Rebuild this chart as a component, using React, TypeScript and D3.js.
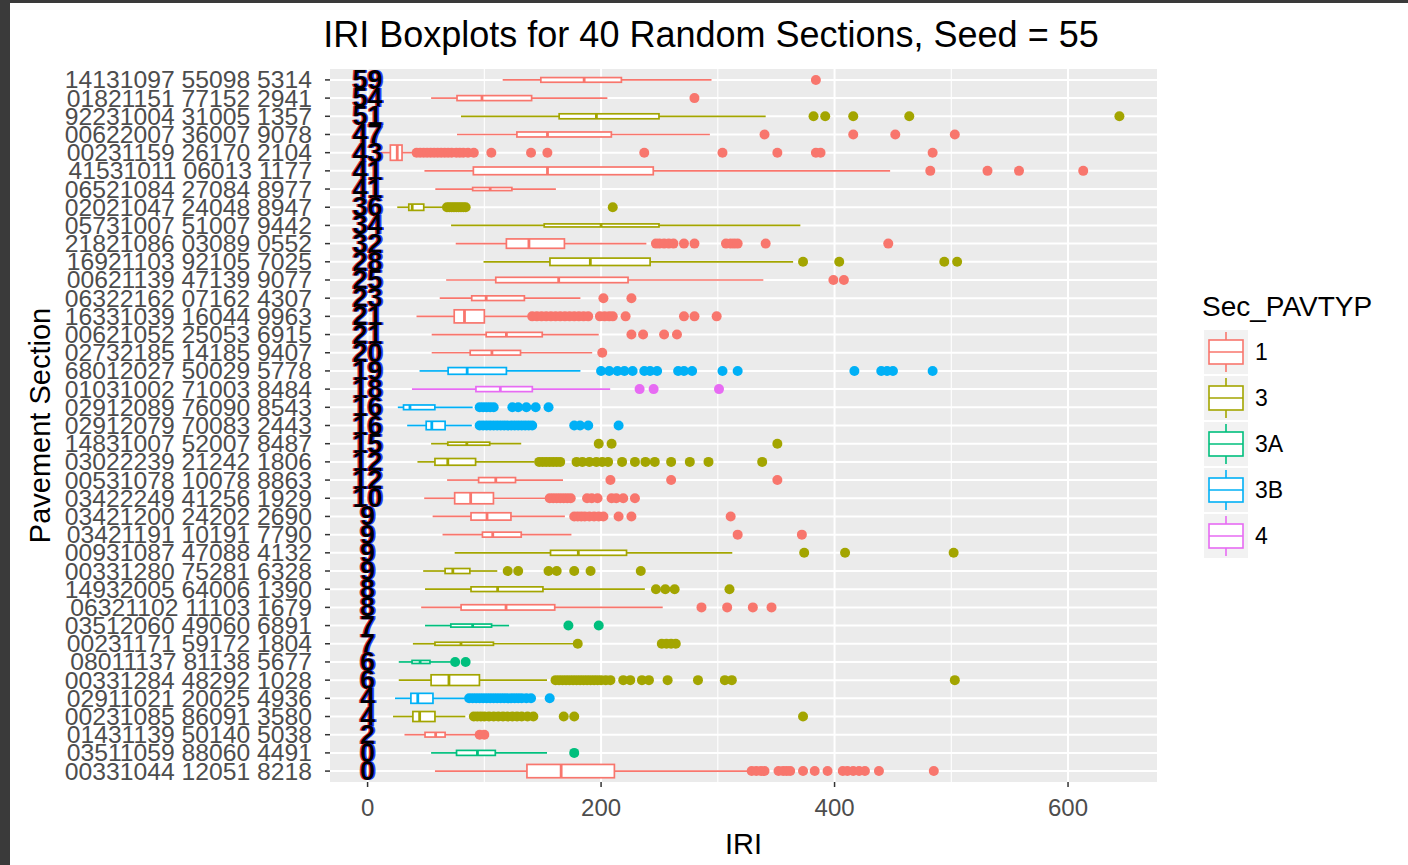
import * as d3 from "d3";

// section ids, top to bottom as drawn
const sections = [
  "14131097 55098 5314", "01821151 77152 2941", "92231004 31005 1357", "00622007 36007 9078",
  "00231159 26170 2104", "41531011 06013 1177", "06521084 27084 8977", "02021047 24048 8947",
  "05731007 51007 9442", "21821086 03089 0552", "16921103 92105 7025", "00621139 47139 9077",
  "06322162 07162 4307", "16331039 16044 9963", "00621052 25053 6915", "02732185 14185 9407",
  "68012027 50029 5778", "01031002 71003 8484", "02912089 76090 8543", "02912079 70083 2443",
  "14831007 52007 8487", "03022239 21242 1806", "00531078 10078 8863", "03422249 41256 1929",
  "03421200 24202 2690", "03421191 10191 7790", "00931087 47088 4132", "00331280 75281 6328",
  "14932005 64006 1390", "06321102 11103 1679", "03512060 49060 6891", "00231171 59172 1804",
  "08011137 81138 5677", "00331284 48292 1028", "02911021 20025 4936", "00231085 86091 3580",
  "01431139 50140 5038", "03511059 88060 4491", "00331044 12051 8218",
];
const rankLabels = [59, 54, 51, 47, 43, 41, 41, 36, 34, 32, 28, 25, 23, 21, 21, 20, 19, 18, 16, 16,
  15, 12, 12, 10, 9, 9, 9, 9, 8, 8, 7, 7, 6, 6, 4, 4, 2, 0, 0];
const pavType = ["1", "1", "3", "1", "1", "1", "1", "3", "3", "1", "3", "1", "1", "1", "1", "1", "3B", "4",
  "3B", "3B", "3", "3", "1", "1", "1", "1", "3", "3", "3", "1", "3A", "3", "3A", "3", "3B", "3", "1", "3A", "1"];

const whiskerLow = [115.7, 54.4, 80, 76.6, 11, 48.7, 58, 25.4, 71.5, 75.5, 99.3, 67.3, 61.8, 41.9, 54.9, 54.9,
  44.5, 38, 25.9, 33.9, 54.4, 42.7, 68.1, 48.5, 55.7, 64.2, 74.6, 47.6, 49.2, 45.9, 49.2, 38.8, 26.7, 26.7,
  23.5, 21.8, 31.6, 54.4, 57.7];
const q1 = [148.4, 76.6, 164.1, 127.9, 19.5, 90.6, 90, 35.3, 151.3, 118.9, 156.2, 109.8, 89.2, 74.2, 101.6, 87.9,
  69, 92.8, 30.8, 50.2, 68.7, 57.7, 95.1, 74.6, 88.6, 98.4, 156.7, 66.4, 88.6, 80.1, 71.3, 57.7, 38.1, 54.4,
  37.1, 38.8, 49.2, 76.2, 136.5];
const median = [185.5, 98, 196, 154.1, 25.4, 154.1, 105, 38.2, 200, 138.2, 190.8, 163.7, 101.6, 83, 118.9, 106.5,
  85.3, 113.7, 36.3, 55, 85, 68.7, 109.8, 88.3, 102.3, 107.2, 180.5, 73, 111.4, 118.6, 90, 80, 45, 69.7,
  43, 44.6, 58.3, 94.1, 165.8];
const q3 = [217.4, 140.5, 249.6, 208.8, 29.5, 244.7, 123.6, 48.1, 249.6, 168.6, 242, 223.1, 134.3, 100, 149.6, 131,
  118.9, 141.1, 57.6, 66.4, 104.6, 92.5, 126.7, 107.8, 122.8, 131.6, 221.8, 87.6, 150.2, 160.3, 106.2, 107.8,
  53.4, 95.8, 56, 57.7, 66.4, 109.4, 211.4];
const whiskerHigh = [294.6, 205.4, 341, 293.2, 38, 447.6, 161.3, 66, 370.7, 238.8, 364.5, 339, 182.3, 137.6, 198,
  192.4, 182.3, 207.8, 90, 89.3, 131.6, 143, 167.4, 152.8, 169, 174.6, 312.4, 111.1, 237.5, 252.8, 121.2, 176,
  71.3, 153.7, 83.7, 83.7, 92.5, 153.7, 325.4];
// number of readings per section (boxes are drawn with varwidth)
const counts = [28, 32, 32, 32, 300, 76, 12, 51, 12, 113, 70, 37, 28, 220, 25, 28, 58, 32, 28, 90, 12, 58, 32,
  158, 70, 32, 32, 32, 28, 37, 12, 12, 12, 147, 128, 128, 28, 32, 227];
const outliers = [
  [384],
  [280],
  [382, 392, 416, 464, 644],
  [340, 416, 452, 503],
  [42, 45, 48, 51, 54, 57, 60, 63, 66, 69, 72, 76, 79, 82, 86, 91, 106, 140, 154, 237, 304, 351, 384, 388, 484],
  [482, 531, 558, 613],
  [],
  [68, 70, 72, 74, 76, 78, 80, 82, 84, 210],
  [],
  [247, 250, 254, 258, 262, 271, 280, 307, 311, 314, 317, 341, 446],
  [373, 404, 494, 505],
  [399, 408],
  [202, 226],
  [141, 145, 149, 153, 157, 161, 165, 169, 173, 177, 181, 185, 189, 199, 203, 207, 210, 221, 271, 280, 299],
  [226, 236, 254, 265],
  [201],
  [200, 207, 214, 220, 227, 237, 242, 248, 266, 271, 278, 304, 317, 417, 440, 445, 450, 484],
  [233, 245, 301],
  [96, 99, 102, 105, 108, 124, 129, 136, 144, 155],
  [96, 99, 102, 105, 108, 111, 114, 117, 120, 123, 126, 129, 132, 135, 138, 141, 177, 182, 189, 215],
  [198, 209, 351],
  [147, 150, 153, 156, 159, 162, 165, 179, 184, 190, 196, 201, 206, 218, 229, 238, 246, 260, 276, 292, 338],
  [208, 260, 351],
  [156, 159, 162, 165, 168, 171, 174, 188, 192, 197, 209, 213, 219, 229],
  [177, 180, 183, 186, 190, 194, 198, 202, 215, 226, 311],
  [317, 372],
  [374, 409, 502],
  [120, 129, 155, 162, 177, 191, 234],
  [247, 255, 263, 310],
  [286, 308, 330, 346],
  [172, 198],
  [180, 252, 256, 260, 264],
  [75, 84],
  [161, 164, 167, 170, 173, 176, 179, 182, 185, 188, 191, 194, 197, 200, 204, 208, 219, 225, 235, 241, 257, 283,
    306, 312, 503],
  [87, 90, 93, 96, 99, 102, 105, 108, 111, 114, 117, 120, 123, 126, 129, 132, 136, 140, 156],
  [91, 94, 97, 100, 104, 108, 112, 116, 120, 124, 128, 132, 137, 142, 168, 177, 373],
  [96, 100],
  [177],
  [329, 333, 337, 340, 352, 356, 359, 362, 373, 383, 394, 407, 411, 416, 421, 426, 438, 485],
];

const typeLevels = ["1", "3", "3A", "3B", "4"];
const typeColors = ["#F8766D", "#A3A500", "#00BF7D", "#00B0F6", "#E76BF3"];
const xTicks = [0, 200, 400, 600];
const xMinorTicks = [100, 300, 500];

const W = 1408;
const H = 865;
const PANEL = { left: 330, right: 1157, top: 69, bottom: 782 };
const FONT = "'Liberation Sans', Arial, sans-serif";

export default function App() {
  const allVals = [0, ...whiskerLow, ...whiskerHigh, ...outliers.flat()];
  const [lo, hi] = d3.extent(allVals) as [number, number];
  const pad = (hi - lo) * 0.05;
  const x = d3.scaleLinear().domain([lo - pad, hi + pad]).range([PANEL.left, PANEL.right]);
  const y = d3.scalePoint<string>().domain(sections).range([PANEL.top, PANEL.bottom]).padding(0.6);
  const color = d3.scaleOrdinal<string, string>().domain(typeLevels).range(typeColors);
  const maxN = d3.max(counts) as number;
  const boxH = (n: number) => y.step() * 0.84 * Math.sqrt(n / maxN);

  const legendTop = 330;
  const keyStep = 46;

  return (
    <svg width={W} height={H} style={{ position: "absolute", left: 0, top: 0, background: "#fff" }} fontFamily={FONT}>
      <rect x={0} y={0} width={W} height={3} fill="#3a3a3a" />
      <rect x={0} y={0} width={10} height={H} fill="#3a3a3a" />

      <text x={711} y={47} fontSize={36} textAnchor="middle" fill="#000">
        IRI Boxplots for 40 Random Sections, Seed = 55
      </text>

      {/* panel */}
      <rect x={PANEL.left} y={PANEL.top} width={PANEL.right - PANEL.left} height={PANEL.bottom - PANEL.top} fill="#EBEBEB" />
      {xMinorTicks.map((t) => (
        <line key={"mn" + t} x1={x(t)} x2={x(t)} y1={PANEL.top} y2={PANEL.bottom} stroke="#fff" strokeWidth={1.1} />
      ))}
      {xTicks.map((t) => (
        <line key={"mj" + t} x1={x(t)} x2={x(t)} y1={PANEL.top} y2={PANEL.bottom} stroke="#fff" strokeWidth={2} />
      ))}
      {sections.map((s) => (
        <line key={"h" + s} x1={PANEL.left} x2={PANEL.right} y1={y(s)} y2={y(s)} stroke="#fff" strokeWidth={2} />
      ))}

      {/* boxplots */}
      {sections.map((s, i) => {
        const c = color(pavType[i]);
        const cy = y(s) as number;
        const h = boxH(counts[i]);
        return (
          <g key={"b" + s}>
            <line x1={x(whiskerLow[i])} x2={x(q1[i])} y1={cy} y2={cy} stroke={c} strokeWidth={1.7} />
            <line x1={x(q3[i])} x2={x(whiskerHigh[i])} y1={cy} y2={cy} stroke={c} strokeWidth={1.7} />
            <rect x={x(q1[i])} y={cy - h / 2} width={x(q3[i]) - x(q1[i])} height={h} fill="#fff" stroke={c} strokeWidth={1.7} />
            <line x1={x(median[i])} x2={x(median[i])} y1={cy - h / 2} y2={cy + h / 2} stroke={c} strokeWidth={2.8} />
            {outliers[i].map((v, j) => (
              <circle key={j} cx={x(v)} cy={cy} r={5} fill={c} />
            ))}
          </g>
        );
      })}

      {/* labels at x = 0 */}
      {sections.map((s, i) => (
        <g key={"l" + s} fontSize={27} fontWeight="bold" textAnchor="middle" dominantBaseline="central">
          <text x={x(0) - 1.3} y={y(s)} fill="#e0001b" opacity={0.8}>{rankLabels[i]}</text>
          <text x={x(0) + 1.3} y={y(s)} fill="#0018ff" opacity={0.8}>{rankLabels[i]}</text>
          <text x={x(0)} y={y(s)} fill="#000">{rankLabels[i]}</text>
        </g>
      ))}

      {/* y axis */}
      {sections.map((s) => (
        <g key={"y" + s}>
          <line x1={PANEL.left - 5} x2={PANEL.left} y1={y(s)} y2={y(s)} stroke="#333" strokeWidth={1.5} />
          <text x={PANEL.left - 18} y={y(s)} fontSize={24.7} textAnchor="end" dominantBaseline="central" fill="#4D4D4D">
            {s}
          </text>
        </g>
      ))}

      {/* x axis */}
      {xTicks.map((t) => (
        <g key={"x" + t}>
          <line x1={x(t)} x2={x(t)} y1={PANEL.bottom} y2={PANEL.bottom + 5} stroke="#333" strokeWidth={1.5} />
          <text x={x(t)} y={PANEL.bottom + 34} fontSize={24} textAnchor="middle" fill="#4D4D4D">{t}</text>
        </g>
      ))}
      <text x={(PANEL.left + PANEL.right) / 2} y={854} fontSize={29} textAnchor="middle" fill="#000">IRI</text>
      <text transform={`translate(50, ${(PANEL.top + PANEL.bottom) / 2}) rotate(-90)`} fontSize={29} textAnchor="middle" fill="#000">
        Pavement Section
      </text>

      {/* legend */}
      <text x={1202} y={316} fontSize={28} fill="#000">Sec_PAVTYP</text>
      {typeLevels.map((lv, i) => {
        const top = legendTop + i * keyStep;
        const c = color(lv);
        const cx = 1226;
        return (
          <g key={"lg" + lv}>
            <rect x={1204} y={top} width={44} height={44} fill="#F2F2F2" />
            <line x1={cx} x2={cx} y1={top + 2} y2={top + 42} stroke={c} strokeWidth={1.6} />
            <rect x={1209} y={top + 10} width={34} height={24} fill="#fff" stroke={c} strokeWidth={1.6} />
            <line x1={1209} x2={1243} y1={top + 22} y2={top + 22} stroke={c} strokeWidth={1.6} />
            <text x={1255} y={top + 22} fontSize={23} dominantBaseline="central" fill="#000">{lv}</text>
          </g>
        );
      })}
    </svg>
  );
}
